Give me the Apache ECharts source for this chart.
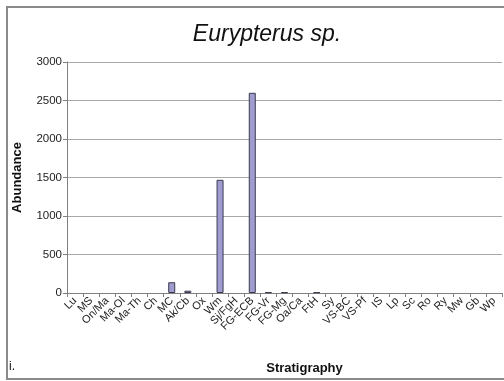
<!DOCTYPE html>
<html><head><meta charset="utf-8">
<script src="https://cdn.jsdelivr.net/npm/echarts@6/dist/echarts.min.js"></script>
<style>html,body{margin:0;padding:0;background:#fff}#c{width:504px;height:381px}</style>
</head><body><div id="c"></div>
<script>
const categories = ["Lu","MS","On/Ma","Ma-Ol","Ma-Th","Ch","MC","Ak/Cb","Ox","Wm","Sj/FgH","FG-ECB","FG-Vr","FG-Mg","Oa/Ca","FtH","Sy","VS-BC","VS-Pf","IS","Lp","Sc","Ro","Ry","Mw","Gb","Wp"];
const abundance = [0,0,0,0,0,0,140,30,0,1470,0,2600,10,10,0,10,0,0,0,0,0,0,0,0,0,0,0];
const yTicks = [0,500,1000,1500,2000,2500,3000];

const chart = echarts.init(document.getElementById('c'), null, {renderer:'canvas'});
chart.setOption({
  animation:false,
  textStyle:{fontFamily:'Liberation Sans, Arial, sans-serif'},
  graphic:[
    {type:'rect', shape:{x:7,y:7,width:500,height:372}, style:{fill:'none', stroke:'#8a8a8a', lineWidth:2}},
    {type:'text', left:9, top:361, style:{text:'i.', font:'12px Liberation Sans', fill:'#111'}}
  ],
  title:{text:'Eurypterus sp.', left:262, textAlign:'center', top:18,
    textStyle:{fontSize:23, fontStyle:'italic', fontWeight:'normal', color:'#111', fontFamily:'Liberation Sans'}},
  grid:{left:67, right:2, top:62, bottom:88, containLabel:false},
  xAxis:{type:'category', data:categories, name:'Stratigraphy', nameLocation:'middle', nameGap:69,
    nameTextStyle:{fontSize:13, fontWeight:'bold', color:'#111', padding:[0,0,0,40]},
    axisLine:{lineStyle:{color:'#808080'}},
    axisTick:{show:true, alignWithLabel:false, length:4, lineStyle:{color:'#808080'}},
    axisLabel:{rotate:45, interval:0, fontSize:11, color:'#222', margin:6}},
  yAxis:{type:'value', min:0, max:3000, interval:500, name:'Abundance', nameLocation:'middle', nameGap:43,
    nameTextStyle:{fontSize:13, fontWeight:'bold', color:'#111'},
    axisLine:{show:true, lineStyle:{color:'#808080'}},
    axisTick:{show:true, length:4, lineStyle:{color:'#808080'}},
    axisLabel:{fontSize:11.5, color:'#222', margin:5, formatter:v=>yTicks.includes(v)?String(v):''},
    splitLine:{lineStyle:{color:'#a8a8a8'}}},
  series:[{type:'bar', data:abundance.map(v=>v===0?'-':v), barWidth:7,
    itemStyle:{color:'#a09ccf', borderColor:'#3a3a50', borderWidth:1}}]
});
</script></body></html>
